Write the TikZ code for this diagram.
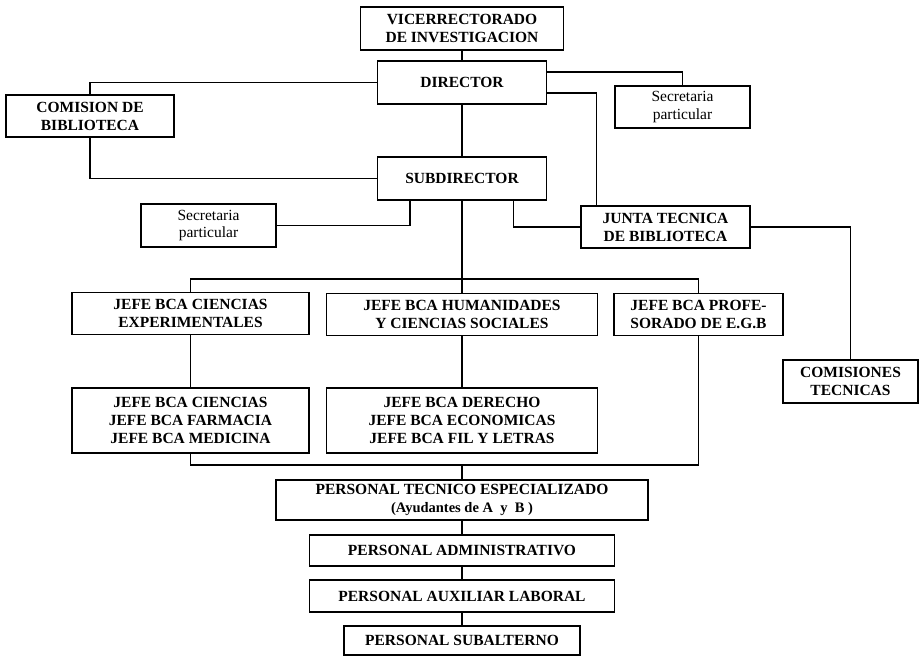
\documentclass[tikz,border=0pt]{standalone}
\usepackage{fontspec}
\setmainfont{Liberation Serif}
\usetikzlibrary{calc,positioning}

\begin{document}
\begin{tikzpicture}[x=1pt, y=-1pt, line width=1.5pt]
\tikzstyle{box}=[draw, rectangle, align=center, inner sep=2pt, font=\fontsize{15.5}{18}\selectfont\bfseries]
\tikzstyle{sbox}=[box, font=\fontsize{15.5}{17.5}\selectfont]
\useasboundingbox (0,0) rectangle (919,657);

\node[box, minimum width=203pt, minimum height=43pt] (vic) at (462,28.5) {VICERRECTORADO\\DE INVESTIGACION};
\node[box, minimum width=169pt, minimum height=43pt] (dir) at (462,82.5) {DIRECTOR};
\node[box, minimum width=168pt, minimum height=42pt] (com) at (90,116) {COMISION DE\\BIBLIOTECA};
\node[sbox, minimum width=135pt, minimum height=42pt] (secA) at (682.5,107) {Secretaria\\particular};
\node[box, minimum width=169pt, minimum height=43pt] (sub) at (462,178.5) {SUBDIRECTOR};
\node[sbox, minimum width=135pt, minimum height=43pt] (secB) at (208.5,225.5) {Secretaria\\particular};
\node[box, minimum width=169pt, minimum height=42pt] (junta) at (665.5,227) {JUNTA TECNICA\\DE BIBLIOTECA};
\node[box, minimum width=237pt, minimum height=42pt] (exp) at (190.5,313.5) {JEFE BCA  CIENCIAS\\EXPERIMENTALES};
\node[box, minimum width=271pt, minimum height=42pt] (hum) at (462,314.5) {JEFE BCA  HUMANIDADES\\Y CIENCIAS SOCIALES};
\node[box, minimum width=169pt, minimum height=42pt] (prof) at (698.5,314.5) {JEFE BCA  PROFE-\\SORADO DE E.G.B};
\node[box, minimum width=135pt, minimum height=43pt] (comt) at (850.5,381.5) {COMISIONES\\TECNICAS};
\node[box, minimum width=237pt, minimum height=65pt] (cfm) at (190.5,420.5) {JEFE BCA  CIENCIAS\\JEFE BCA  FARMACIA\\JEFE BCA  MEDICINA};
\node[box, minimum width=271pt, minimum height=65pt] (dec) at (462,420.5) {JEFE BCA  DERECHO\\JEFE BCA  ECONOMICAS\\JEFE BCA  FIL  Y LETRAS};
\node[box, minimum width=372pt, minimum height=40pt] (ptec) at (462,500) {PERSONAL TECNICO ESPECIALIZADO\\{\fontsize{14.5}{15}\selectfont (Ayudantes de A\ \ y\ \ B )}};
\node[box, minimum width=305pt, minimum height=31pt] (padm) at (462,550.5) {PERSONAL ADMINISTRATIVO};
\node[box, minimum width=305pt, minimum height=32pt] (paux) at (462,596) {PERSONAL AUXILIAR LABORAL};
\node[box, minimum width=236pt, minimum height=29pt] (psub) at (462,640.5) {PERSONAL SUBALTERNO};

\coordinate (bar) at (462,279);
\coordinate (bot) at (462,465);

\draw (vic) -- (dir) -- (sub) -- (hum);
\draw (com.north) |- (dir.west);
\draw (com.south) |- (sub.west);
\draw ([yshift=10.5pt]dir.east) -| (secA.north);
\draw ([yshift=-10.5pt]dir.east) -| ([xshift=16pt]junta.north west);
\draw ([xshift=33pt]sub.south west) |- (secB.east);
\draw ([xshift=-34pt]sub.south east) |- (junta.west);
\draw (junta.east) -| (comt.north);
\draw (exp.north) |- (bar) -| (prof.north);
\draw (exp) -- (cfm);
\draw (hum) -- (dec);
\draw (cfm.south) |- (bot) -| (prof.south);
\draw (bot) -- (ptec) -- (padm) -- (paux) -- (psub);
\end{tikzpicture}
\end{document}
